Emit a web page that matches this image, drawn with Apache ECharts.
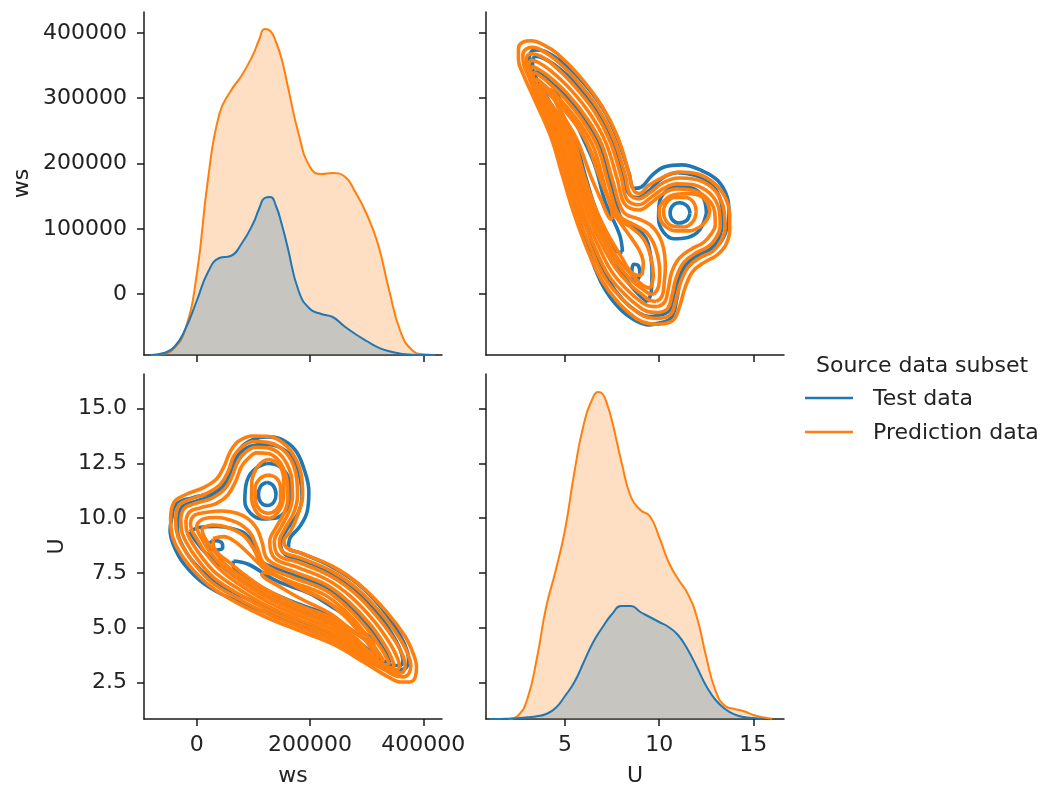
<!DOCTYPE html>
<html>
<head>
<meta charset="utf-8">
<script src="https://cdn.jsdelivr.net/npm/echarts@6/dist/echarts.min.js"></script>
<style>
  html, body { margin: 0; padding: 0; background: #fff; }
  #chart { width: 1051px; height: 789px; }
</style>
</head>
<body>
<div id="chart"></div>
<script>
const BLUE = '#1f77b4';
const ORANGE = '#ff7f0e';
const FONT = 'DejaVu Sans';
const TEXT = '#222';
const FONT_SIZE = 22;

// tick positions
const wsTicks = [0, 200000, 400000];
const wsRowTicks = [0, 100000, 200000, 300000, 400000];
const uTicks = [5, 10, 15];
const uRowTicks = [2.5, 5, 7.5, 10, 12.5, 15];

// marginal KDE of ws (relative density, common normalisation)
const wsGrid = [-80000, -60000, -40000, -20000, 0, 20000, 40000, 60000, 80000, 100000, 110000, 120000, 130000,
  140000, 150000, 160000, 180000, 200000, 220000, 240000, 260000, 280000, 300000, 320000, 340000, 360000,
  380000, 400000, 420000];
const wsDensityPred = [0, 1, 6.7, 26, 80, 176, 241, 264, 280, 301, 315, 326, 324,
  313, 296, 271, 221, 188, 181, 182, 179, 163, 141, 111, 64, 23,
  5, 0.7, 0];
const wsDensityTest = [0, 1.7, 7.7, 26, 54, 83, 97, 99, 112, 132, 146, 157, 158,
  149, 131, 109, 64, 46, 41, 38, 29, 21, 14, 7.7, 3.7, 1.3,
  0.3, 0, 0];

// marginal KDE of U
const uGridTest = [1, 1.5, 2, 2.5, 3, 3.5, 4, 4.5, 5, 5.5, 6, 6.5, 7, 7.5, 8, 8.5, 9, 9.5, 10, 10.5,
  11, 11.5, 12, 12.5, 13, 13.5, 14, 14.5, 15, 15.5];
const uDensityTest = [0, 0, 0.3, 0.7, 1.7, 2.7, 5, 11, 23, 37, 57, 77, 92, 105, 113, 113, 107, 102, 97, 92,
  84, 70, 52, 33, 19, 10, 4.7, 2, 1, 0];
const uGridPred = [2, 2.5, 3, 3.5, 4, 4.5, 5, 5.5, 6, 6.5, 6.75, 7, 7.25, 7.5, 8, 8.5, 9, 9.5, 10, 10.5,
  11, 11.5, 12, 12.5, 13, 13.5, 14, 14.5, 15, 15.5, 16];
const uDensityPred = [0, 3.3, 20, 60, 112, 148, 189, 247, 295, 322, 327, 325, 314, 298, 257, 222, 209, 203, 182, 157,
  140, 126, 102, 62, 28, 13, 10, 7.7, 4, 1.7, 0.3];

// joint KDE iso-density lines, points as [ws (thousands), U]
const contoursTest = [
  [[-44,9.97],[-36,10.64],[-7,10.94],[32,11.21],[53,11.75],[65,12.58],[78,13.22],[100,13.59],[124,13.71],[148,13.62],[174,13.11],[189,12.28],[198,11.21],[195,10.30],[182,9.62],[164,9.05],[162,8.66],[185,8.40],[238,7.79],[285,6.99],[329,5.82],[359,4.67],[372,3.91],[374,3.46],[368,3.15],[353,3.08],[335,3.26],[300,3.64],[241,4.43],[182,5.05],[118,5.74],[59,6.35],[12,7.03],[-22,7.90],[-41,8.78],[-47,9.47]],
  [[-32,9.97],[-25,10.53],[0,10.79],[29,11.03],[51,11.49],[62,12.25],[74,12.89],[95,13.28],[124,13.37],[150,13.19],[171,12.70],[182,11.90],[186,10.99],[178,10.18],[159,9.48],[148,8.86],[156,8.35],[185,8.10],[236,7.53],[281,6.71],[324,5.51],[352,4.40],[362,3.79],[364,3.46],[358,3.28],[346,3.28],[329,3.49],[293,3.91],[241,4.64],[182,5.25],[124,5.92],[68,6.58],[24,7.26],[-9,8.10],[-29,8.96],[-34,9.47]],
  [[-12,9.39],[6,9.59],[35,9.62],[65,9.51],[85,9.31],[100,8.86],[109,8.17],[124,7.87],[168,7.44],[228,6.83],[268,6.04],[303,5.05],[329,4.07],[339,3.64],[340,3.46],[334,3.43],[324,3.58],[285,4.37],[241,5.13],[182,5.74],[124,6.44],[76,7.18],[41,7.87],[15,8.44],[-3,9.01]],
  [[65,8.05],[91,7.90],[141,7.14],[197,6.59],[241,5.92],[259,5.62],[285,4.98],[309,4.52],[313,4.34],[300,4.43],[265,5.05],[235,5.56],[182,6.07],[124,6.71],[81,7.44],[64,7.87]],
  [[22,8.86],[32,8.98],[44,8.89],[46,8.66],[34,8.55],[24,8.63]],
  [[124,12.51],[147,12.35],[162,11.82],[165,11.06],[158,10.38],[138,10.00],[115,9.97],[95,10.23],[85,10.76],[87,11.52],[99,12.16]],
  [[124,11.64],[135,11.49],[140,11.09],[136,10.73],[125,10.58],[114,10.70],[109,11.06],[113,11.46]]
];

const contoursPred = [
  [[-46,10.00],[-40,10.73],[-21,11.06],[12,11.40],[35,11.79],[48,12.35],[60,13.07],[75,13.53],[99,13.75],[124,13.74],[147,13.53],[169,12.96],[184,12.05],[187,11.06],[179,10.19],[166,9.42],[154,8.96],[160,8.63],[185,8.40],[241,7.79],[288,6.96],[335,5.74],[368,4.60],[382,3.84],[388,3.23],[386,2.77],[376,2.53],[359,2.53],[338,2.76],[300,3.35],[241,4.25],[182,4.86],[124,5.47],[65,6.23],[21,6.96],[-14,7.87],[-37,8.78],[-45,9.47]],
  [[-37,10.00],[-31,10.61],[-12,10.86],[19,11.15],[42,11.55],[56,12.16],[66,12.86],[81,13.27],[101,13.50],[125,13.46],[146,13.25],[165,12.73],[176,11.90],[178,11.03],[171,10.23],[156,9.54],[146,8.93],[153,8.45],[182,8.20],[238,7.59],[284,6.77],[328,5.59],[359,4.49],[373,3.79],[378,3.28],[375,2.93],[366,2.76],[352,2.80],[332,3.08],[297,3.55],[241,4.42],[182,5.02],[124,5.65],[68,6.41],[25,7.11],[-6,7.99],[-28,8.86],[-36,9.47]],
  [[-28,9.97],[-22,10.45],[-3,10.67],[26,10.91],[49,11.32],[63,11.94],[73,12.61],[86,13.01],[104,13.24],[125,13.21],[144,12.99],[159,12.49],[168,11.75],[169,10.94],[162,10.24],[149,9.60],[137,8.93],[145,8.29],[179,7.99],[235,7.38],[279,6.58],[321,5.43],[351,4.37],[364,3.73],[368,3.26],[365,3.00],[355,2.93],[341,3.03],[324,3.31],[294,3.73],[241,4.58],[182,5.19],[124,5.83],[71,6.59],[30,7.29],[1,8.13],[-19,8.93],[-27,9.47]],
  [[-19,9.92],[-12,10.30],[6,10.47],[34,10.67],[55,11.06],[69,11.70],[79,12.35],[91,12.73],[106,12.98],[126,12.95],[141,12.73],[153,12.28],[160,11.64],[161,10.91],[155,10.27],[142,9.66],[129,8.93],[138,8.17],[176,7.78],[232,7.17],[274,6.38],[314,5.28],[342,4.25],[354,3.64],[358,3.25],[354,3.09],[346,3.08],[332,3.25],[315,3.53],[291,3.91],[241,4.75],[182,5.36],[124,6.01],[74,6.77],[35,7.47],[8,8.26],[-11,9.01],[-18,9.47]],
  [[-11,9.85],[-3,10.15],[18,10.27],[44,10.33],[71,10.23],[91,9.97],[106,9.54],[115,8.93],[126,8.10],[171,7.56],[229,6.96],[269,6.17],[307,5.13],[334,4.13],[345,3.55],[348,3.28],[344,3.18],[335,3.23],[322,3.46],[306,3.76],[288,4.10],[241,4.92],[182,5.53],[124,6.20],[76,6.96],[41,7.66],[16,8.40],[-1,9.12],[-9,9.47]],
  [[126,12.69],[141,12.54],[151,12.16],[154,11.59],[153,10.91],[145,10.33],[129,10.00],[115,10.06],[103,10.38],[97,10.91],[97,11.59],[103,12.16],[114,12.54]],
  [[0,9.72],[12,9.97],[35,10.03],[59,9.92],[79,9.69],[95,9.31],[106,8.70],[121,7.87],[165,7.34],[226,6.73],[265,5.95],[300,4.98],[326,4.04],[336,3.58],[339,3.37],[334,3.31],[325,3.38],[312,3.64],[285,4.28],[241,5.09],[182,5.69],[124,6.38],[79,7.11],[46,7.79],[22,8.51],[7,9.16],[1,9.47]],
  [[126,11.97],[141,11.82],[148,11.37],[148,10.83],[140,10.38],[126,10.23],[113,10.35],[104,10.76],[103,11.34],[111,11.79]],
  [[9,9.54],[29,9.69],[59,9.54],[85,9.16],[103,8.48],[118,7.72],[159,7.18],[224,6.53],[262,5.77],[295,4.83],[319,3.94],[328,3.58],[329,3.46],[325,3.46],[316,3.58],[282,4.45],[241,5.25],[182,5.86],[124,6.56],[82,7.26],[50,7.91],[28,8.60],[13,9.16]],
  [[29,9.08],[47,9.16],[68,8.93],[91,8.40],[118,7.75],[159,7.11],[221,6.35],[259,5.59],[291,4.67],[313,3.91],[321,3.70],[319,3.61],[314,3.67],[278,4.60],[241,5.40],[182,6.01],[124,6.73],[85,7.41],[56,8.02],[36,8.44],[29,8.86]],
  [[118,7.53],[141,7.38],[182,6.80],[235,6.12],[276,5.25],[306,4.49],[314,4.22],[305,4.31],[271,4.95],[235,5.66],[182,6.35],[141,6.96],[121,7.26],[115,7.44]]
];

const WS_MIN = -93000, WS_MAX_X = 433000, WS_MAX_Y = 432000;
const U_MIN_X = 0.805, U_MAX_X = 16.63;
const U_MIN_Y = 0.84, U_MAX_Y = 16.58;

function valueAxis(o) {
  return {
    type: 'value',
    gridIndex: o.grid,
    min: o.min, max: o.max,
    position: o.position,
    name: o.name || '',
    nameLocation: 'middle',
    nameGap: o.nameGap || 0,
    nameTextStyle: { fontFamily: FONT, fontSize: FONT_SIZE, color: TEXT },
    axisLine: { show: true, onZero: false, lineStyle: { color: '#1a1a1a', width: 1.5 } },
    axisTick: { show: true, inside: false, length: 7, customValues: o.ticks,
      lineStyle: { color: '#1a1a1a', width: 1.5 } },
    axisLabel: { show: !!o.labels, customValues: o.ticks, margin: o.margin || 16,
      fontFamily: FONT, fontSize: FONT_SIZE, color: TEXT, formatter: o.formatter },
    splitLine: { show: false }
  };
}
function hiddenAxis(grid, max) {
  return { type: 'value', gridIndex: grid, min: 0, max: max, show: false,
    axisLine: { show: false }, axisTick: { show: false }, axisLabel: { show: false }, splitLine: { show: false } };
}
const plain = v => String(v);
const oneDecimal = v => Number(v).toFixed(1);

const xAxis = [
  valueAxis({ grid: 0, min: WS_MIN, max: WS_MAX_X, position: 'bottom', ticks: wsTicks }),
  valueAxis({ grid: 1, min: U_MIN_X, max: U_MAX_X, position: 'bottom', ticks: uTicks }),
  valueAxis({ grid: 2, min: WS_MIN, max: WS_MAX_X, position: 'bottom', ticks: wsTicks, labels: true,
    name: 'ws', nameGap: 46, margin: 15, formatter: plain }),
  valueAxis({ grid: 3, min: U_MIN_X, max: U_MAX_X, position: 'bottom', ticks: uTicks, labels: true,
    name: 'U', nameGap: 46, margin: 15, formatter: plain })
];
const yAxis = [
  valueAxis({ grid: 0, min: WS_MIN, max: WS_MAX_Y, position: 'left', ticks: wsRowTicks, labels: true,
    name: 'ws', nameGap: 111, margin: 17, formatter: plain }),
  hiddenAxis(0, 343),
  valueAxis({ grid: 1, min: WS_MIN, max: WS_MAX_Y, position: 'left', ticks: wsRowTicks }),
  valueAxis({ grid: 2, min: U_MIN_Y, max: U_MAX_Y, position: 'left', ticks: uRowTicks, labels: true,
    name: 'U', nameGap: 76, margin: 17, formatter: oneDecimal }),
  valueAxis({ grid: 3, min: U_MIN_Y, max: U_MAX_Y, position: 'left', ticks: uRowTicks }),
  hiddenAxis(3, 345)
];

const series = [];
function kde(xi, yi, xs, ys, color, z) {
  series.push({
    type: 'line', xAxisIndex: xi, yAxisIndex: yi, z: z, silent: true,
    data: xs.map((x, i) => [x, ys[i]]),
    smooth: 0.5, symbol: 'none',
    lineStyle: { color: color, width: 2 },
    areaStyle: { color: color, opacity: 0.25 }
  });
}
kde(0, 1, wsGrid, wsDensityPred, ORANGE, 2);
kde(0, 1, wsGrid, wsDensityTest, BLUE, 3);
kde(3, 5, uGridPred, uDensityPred, ORANGE, 2);
kde(3, 5, uGridTest, uDensityTest, BLUE, 3);

const CONTOUR_WIDTH = 3.6;
function contour(lines, color, z) {
  lines.forEach(line => {
    const ring = line.concat([line[0]]);
    // upper panel: x = U, y = ws
    series.push({
      type: 'line', xAxisIndex: 1, yAxisIndex: 2, z: z, silent: true,
      data: ring.map(p => [p[1], p[0] * 1000]),
      smooth: 0.4, symbol: 'none', lineStyle: { color: color, width: CONTOUR_WIDTH }
    });
    // lower panel: x = ws, y = U
    series.push({
      type: 'line', xAxisIndex: 2, yAxisIndex: 3, z: z, silent: true,
      data: ring.map(p => [p[0] * 1000, p[1]]),
      smooth: 0.4, symbol: 'none', lineStyle: { color: color, width: CONTOUR_WIDTH }
    });
  });
}
contour(contoursTest, BLUE, 2);
contour(contoursPred, ORANGE, 3);

const legendFont = FONT_SIZE + 'px "' + FONT + '"';
const graphic = [
  { type: 'text', x: 816, y: 366, style: { text: 'Source data subset', font: legendFont, fill: TEXT, verticalAlign: 'middle' } },
  { type: 'line', shape: { x1: 805, y1: 398, x2: 853, y2: 398 }, style: { stroke: BLUE, lineWidth: 2.5 } },
  { type: 'text', x: 873, y: 399, style: { text: 'Test data', font: legendFont, fill: TEXT, verticalAlign: 'middle' } },
  { type: 'line', shape: { x1: 805, y1: 432, x2: 853, y2: 432 }, style: { stroke: ORANGE, lineWidth: 2.5 } },
  { type: 'text', x: 873, y: 433, style: { text: 'Prediction data', font: legendFont, fill: TEXT, verticalAlign: 'middle' } }
];

const chart = echarts.init(document.getElementById('chart'), null, { renderer: 'canvas' });
chart.setOption({
  backgroundColor: '#fff',
  animation: false,
  grid: [
    { left: 144, top: 12, width: 298, height: 343 },
    { left: 486, top: 12, width: 298, height: 343 },
    { left: 144, top: 374, width: 298, height: 345 },
    { left: 486, top: 374, width: 298, height: 345 }
  ],
  xAxis: xAxis,
  yAxis: yAxis,
  series: series,
  graphic: graphic
});
</script>
</body>
</html>
